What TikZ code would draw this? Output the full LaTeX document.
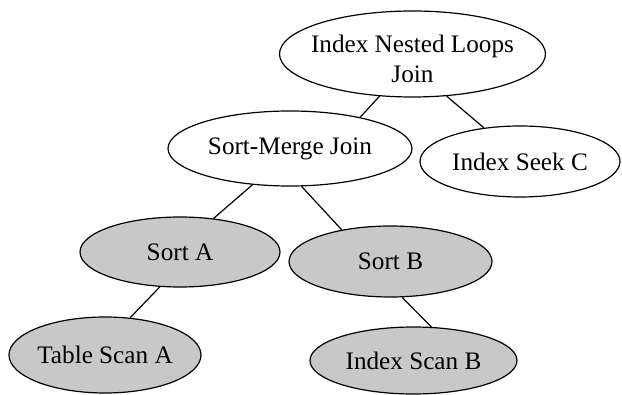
\documentclass[tikz,border=0pt]{standalone}
\usepackage{fontspec}
\setmainfont{Liberation Serif}
\usetikzlibrary{shapes.geometric}
\definecolor{nodegray}{RGB}{200,200,200}
\begin{document}
\begin{tikzpicture}[x=1pt,y=-1pt,
  optext/.style={align=center, inner sep=0pt, font=\fontsize{25.2}{30.5}\selectfont},
  op/.style={ellipse, draw, line width=1.2pt, optext},
  grayop/.style={op, fill=nodegray},
  link/.style={line width=1.2pt}]
\useasboundingbox (0,0) rectangle (622,395);
\node[op, minimum width=266pt, minimum height=86pt,
  label={[optext, yshift=-5pt]center:{Index Nested Loops\\Join}}] (inl) at (412.5,54) {};
\node[op, minimum width=244pt, minimum height=75pt] (smj) at (290,148.5) {Sort-Merge Join};
\node[op, minimum width=200pt, minimum height=71pt] (isc) at (520,161.5) {Index Seek C};
\node[grayop, minimum width=200pt, minimum height=70pt] (sa) at (180,252) {Sort A};
\node[grayop, minimum width=203pt, minimum height=71pt] (sb) at (390.5,261.5) {Sort B};
\node[grayop, minimum width=192pt, minimum height=76pt] (tsa) at (105,355) {Table Scan A};
\node[grayop, minimum width=207pt, minimum height=67pt] (isb) at (413.5,360.5) {Index Scan B};
\draw[link] (inl.232.9) -- (smj.24.2);
\draw[link] (inl.309.5) -- (isc.137.7);
\draw[link] (smj.224.6) -- (sa.45);
\draw[link] (smj.287.3) -- (sb.147.2);
\draw[link] (sa.240.3) -- (tsa.56);
\draw[link] (sb.288) -- (isb.62);
\end{tikzpicture}
\end{document}
